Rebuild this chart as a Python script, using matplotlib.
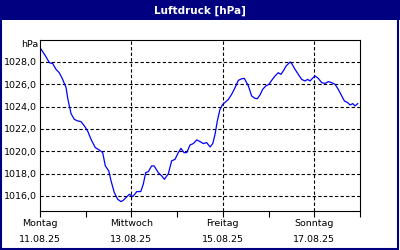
import matplotlib
matplotlib.use("Agg")
import matplotlib.pyplot as plt
from matplotlib.patches import Rectangle

# Stunden seit Montag 11.08.25 00:00
stunden = [0.4, 3.2, 4.9, 6.7, 8.4, 10.1, 11.9, 13.7, 14.5, 15.4, 16.3, 18.0, 19.8, 21.5,
           23.3, 25.0, 26.8, 29.0, 31.1, 32.9, 34.3, 36.1, 37.3, 39.0, 40.8, 42.5, 43.7,
           45.5, 46.9, 48.7, 50.0, 50.8, 52.9, 54.2, 55.5, 56.9, 58.6, 59.9, 62.1, 63.9,
           65.3, 67.4, 69.1, 70.9, 72.6, 74.0, 75.6, 77.0, 78.8, 80.5, 82.3, 84.0, 85.7,
           87.5, 89.3, 90.7, 91.9, 93.1, 94.5, 95.9, 98.0, 98.9, 100.6, 102.4, 104.1,
           105.9, 107.3, 109.4, 111.1, 112.9, 114.1, 115.5, 116.9, 118.5, 120.2, 121.6,
           123.4, 125.1, 126.5, 127.7, 129.2, 131.3, 132.2, 133.9, 135.6, 137.4, 139.1,
           140.5, 141.8, 143.0, 144.4, 146.1, 147.9, 149.6, 151.4, 153.1, 154.9, 156.6,
           158.4, 159.8, 161.5, 162.8, 164.2, 165.4, 166.8]
druck = [1029.19, 1028.45, 1027.94, 1027.85, 1027.34, 1027.04, 1026.44, 1025.70, 1024.80,
         1024.06, 1023.37, 1022.86, 1022.72, 1022.66, 1022.27, 1021.82, 1021.07, 1020.33,
         1020.12, 1019.88, 1018.69, 1018.24, 1017.35, 1016.30, 1015.70, 1015.49, 1015.61,
         1015.91, 1016.15, 1015.94, 1016.21, 1016.39, 1016.39, 1017.04, 1018.09, 1018.18,
         1018.69, 1018.69, 1018.09, 1017.79, 1017.49, 1018.00, 1019.14, 1019.28, 1019.88,
         1020.26, 1019.88, 1019.88, 1020.57, 1020.69, 1021.02, 1020.87, 1020.69, 1020.78,
         1020.39, 1020.69, 1021.52, 1022.72, 1023.76, 1024.20, 1024.51, 1024.65, 1025.10,
         1025.70, 1026.35, 1026.50, 1026.53, 1025.85, 1024.96, 1024.74, 1024.71, 1025.05,
         1025.55, 1025.85, 1026.00, 1026.35, 1026.75, 1027.04, 1026.89, 1027.19, 1027.64,
         1028.00, 1027.85, 1027.34, 1026.89, 1026.44, 1026.30, 1026.44, 1026.30, 1026.53,
         1026.75, 1026.53, 1026.15, 1026.08, 1026.24, 1026.15, 1026.00, 1025.55, 1024.96,
         1024.51, 1024.36, 1024.15, 1024.27, 1024.06, 1024.27]

y_ticks = [1016, 1018, 1020, 1022, 1024, 1026, 1028]
tag_pos = [0, 48, 96, 144]
tag_labels = ["Montag\n11.08.25", "Mittwoch\n13.08.25", "Freitag\n15.08.25", "Sonntag\n17.08.25"]
zwischen_pos = [24, 72, 120, 168]

navy = "#000080"

fig = plt.figure(figsize=(4, 2.5), dpi=100)
fig.patch.set_facecolor("white")

# Titelleiste und Rahmen
fig.patches.append(Rectangle((0, 1 - 20 / 250), 1, 20 / 250, transform=fig.transFigure,
                             facecolor=navy, edgecolor="none", zorder=0))
fig.patches.append(Rectangle((0.5 / 400, 1 / 250), 1 - 2.5 / 400, 1 - 2 / 250,
                             transform=fig.transFigure, facecolor="none",
                             edgecolor=navy, linewidth=1.5, zorder=0))
fig.text(0.5, 1 - 10.5 / 250, "Luftdruck [hPa]", color="white", fontsize=7.5,
         fontweight="bold", ha="center", va="center")

ax = fig.add_axes([40 / 400, 1 - 211 / 250, 320 / 400, 171 / 250])
ax.plot(stunden, druck, color="#0000ff", linewidth=0.9)
ax.set_xlim(0, 168)
ax.set_ylim(1014.65, 1029.97)

ax.set_yticks(y_ticks)
ax.set_yticklabels([f"{v:.1f}".replace(".", ",") for v in y_ticks])
ax.tick_params(axis="y", length=0, pad=2, labelsize=6.8)
ax.set_xticks(tag_pos)
ax.set_xticklabels(tag_labels, linespacing=1.9)
ax.set_xticks(zwischen_pos, minor=True)
ax.tick_params(axis="x", which="both", length=4, width=0.8, direction="out",
               pad=2, labelsize=6.8)

for v in y_ticks:
    ax.axhline(v, color="black", linestyle=(0, (3, 2)), linewidth=0.8, zorder=0)
for t in tag_pos[1:]:
    ax.axvline(t, color="black", linestyle=(0, (3, 2)), linewidth=0.8, zorder=0)

for s in ax.spines.values():
    s.set_linewidth(0.8)
    s.set_color("black")

fig.text(38 / 400, 1 - 45 / 250, "hPa", fontsize=6.8, ha="right", va="center")

fig.savefig("out.png", dpi=100)
